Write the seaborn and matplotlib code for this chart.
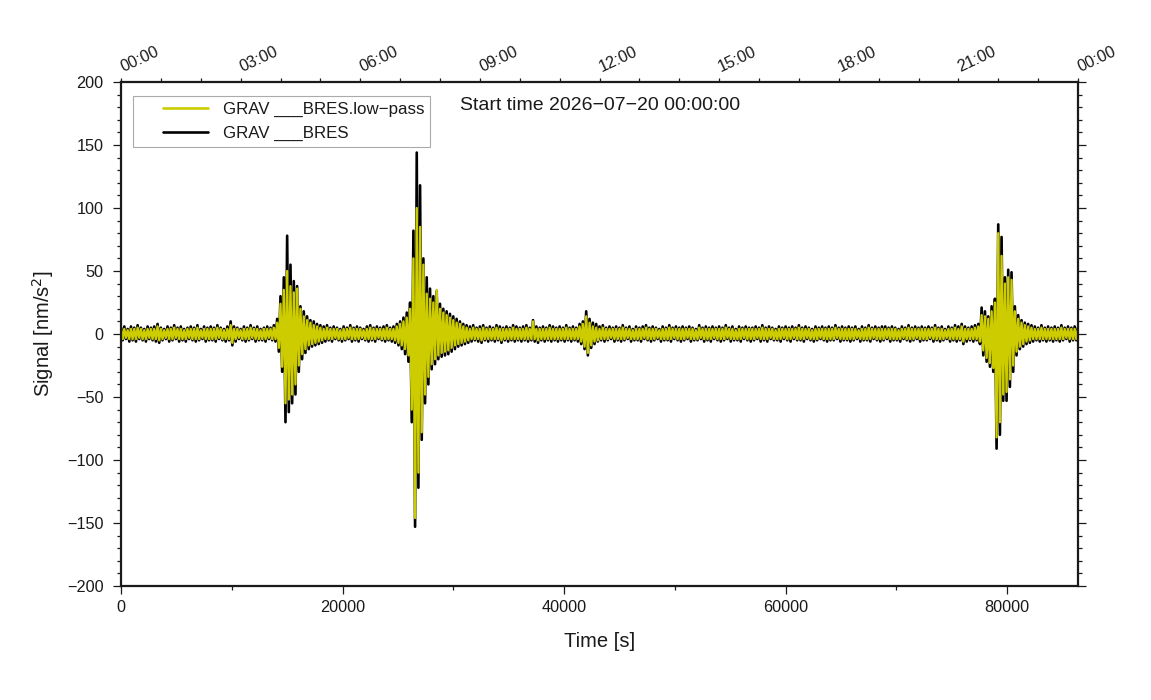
import numpy as np
import pandas as pd
import matplotlib
matplotlib.use("Agg")
import matplotlib.pyplot as plt
import matplotlib.transforms as mtransforms
import seaborn as sns
from matplotlib.ticker import MultipleLocator, FixedLocator, NullFormatter
from matplotlib.lines import Line2D
from matplotlib.legend_handler import HandlerLine2D

# ---------------- data ----------------
# envelope peaks of the raw trace: positive peaks every 300 s (t = 300k),
# negative peaks in between (t = 300k + 150)
raw_hi = [
    5, 6, 4, 6, 5, 7, 5, 4, 6, 5,
    6, 8, 5, 4, 6, 5, 7, 5, 6, 4,
    5, 6, 5, 7, 4, 6, 5, 6, 5, 7,
    5, 4, 6, 10, 6, 5, 4, 6, 5, 7,
    5, 6, 4, 5, 6, 5, 7, 12, 30, 45,
    78, 55, 42, 38, 22, 18, 14, 11, 10, 8,
    7, 6, 7, 5, 6, 5, 4, 6, 5, 7,
    5, 6, 5, 4, 6, 7, 5, 6, 5, 6,
    7, 5, 6, 8, 10, 13, 17, 25, 82, 144,
    118, 60, 45, 36, 30, 34, 24, 20, 18, 16,
    14, 12, 10, 8, 7, 6, 7, 5, 6, 7,
    5, 6, 5, 7, 6, 5, 6, 5, 7, 6,
    5, 6, 7, 5, 11, 6, 5, 6, 5, 7,
    6, 5, 6, 5, 7, 5, 6, 5, 8, 10,
    18, 12, 9, 8, 6, 7, 5, 6, 5, 6,
    5, 7, 5, 6, 4, 6, 5, 6, 7, 5,
    6, 5, 4, 6, 5, 7, 5, 6, 5, 6,
    5, 6, 5, 4, 7, 5, 6, 5, 6, 5,
    6, 5, 7, 5, 6, 4, 6, 5, 6, 5,
    5, 6, 5, 7, 5, 6, 5, 4, 6, 5,
    6, 5, 6, 5, 7, 5, 6, 5, 4, 6,
    5, 6, 5, 6, 5, 7, 5, 6, 5, 6,
    5, 6, 4, 6, 5, 7, 5, 6, 5, 6,
    6, 5, 6, 5, 4, 6, 5, 7, 5, 6,
    5, 6, 5, 6, 5, 7, 5, 6, 4, 6,
    5, 7, 6, 8, 6, 5, 6, 7, 8, 21,
    18, 14, 22, 28, 87, 77, 45, 51, 49, 22,
    15, 11, 9, 8, 7, 6, 5, 7, 5, 6,
    5, 6, 5, 7, 5, 6, 5, 6, 5,
]
raw_lo = [
    -5, -4, -6, -5, -6, -4, -5, -6, -4, -5,
    -6, -7, -5, -4, -6, -5, -4, -6, -5, -6,
    -4, -5, -6, -5, -4, -6, -5, -5, -6, -4,
    -5, -6, -5, -9, -6, -4, -5, -6, -5, -4,
    -6, -5, -5, -6, -4, -5, -6, -14, -30, -70,
    -62, -55, -48, -30, -20, -15, -12, -10, -9, -8,
    -7, -6, -5, -6, -4, -5, -6, -5, -4, -6,
    -5, -6, -4, -5, -6, -5, -6, -4, -5, -6,
    -5, -6, -7, -9, -12, -16, -22, -70, -153, -122,
    -84, -55, -40, -28, -24, -20, -18, -17, -16, -14,
    -12, -10, -9, -8, -7, -6, -5, -6, -7, -5,
    -6, -5, -6, -5, -7, -5, -6, -5, -6, -5,
    -6, -5, -6, -5, -6, -7, -5, -6, -5, -6,
    -5, -6, -5, -6, -5, -6, -5, -6, -8, -12,
    -17, -11, -8, -6, -5, -6, -5, -4, -6, -5,
    -6, -5, -4, -6, -5, -5, -6, -4, -5, -6,
    -5, -4, -6, -5, -5, -6, -4, -5, -6, -5,
    -4, -6, -5, -5, -4, -6, -5, -6, -4, -5,
    -6, -5, -4, -6, -5, -5, -6, -4, -5, -6,
    -5, -4, -6, -5, -6, -4, -5, -5, -6, -4,
    -5, -6, -4, -5, -5, -6, -4, -5, -6, -5,
    -4, -5, -6, -5, -5, -4, -6, -5, -5, -6,
    -5, -4, -6, -5, -5, -6, -4, -5, -6, -5,
    -4, -6, -5, -5, -6, -4, -5, -6, -5, -4,
    -6, -5, -5, -4, -6, -5, -6, -5, -4, -6,
    -5, -6, -5, -8, -6, -5, -6, -5, -8, -17,
    -22, -26, -30, -91, -80, -53, -53, -42, -30, -17,
    -12, -10, -8, -7, -6, -5, -6, -5, -6, -5,
    -6, -5, -6, -5, -4, -6, -5, -5,
]
# same for the low-pass trace
low_hi = [
    4, 4, 3, 4, 4, 5, 4, 3, 4, 4,
    4, 6, 4, 3, 4, 4, 5, 4, 4, 3,
    4, 4, 4, 5, 3, 4, 4, 4, 4, 5,
    4, 3, 4, 7, 4, 4, 3, 4, 4, 5,
    4, 4, 3, 4, 4, 4, 5, 9, 24, 35,
    50, 38, 33, 36, 20, 14, 11, 9, 7, 6,
    5, 4, 5, 4, 4, 4, 3, 4, 4, 5,
    4, 4, 4, 3, 4, 5, 4, 4, 4, 4,
    5, 4, 4, 6, 8, 10, 13, 20, 60, 100,
    85, 55, 32, 28, 25, 35, 20, 17, 15, 13,
    11, 9, 8, 6, 5, 4, 5, 4, 4, 5,
    4, 4, 4, 5, 4, 4, 4, 4, 5, 4,
    4, 4, 5, 4, 10, 4, 4, 4, 4, 5,
    4, 4, 4, 4, 5, 4, 4, 4, 6, 8,
    14, 9, 6, 5, 4, 5, 4, 4, 4, 4,
    4, 5, 4, 4, 3, 4, 4, 4, 5, 4,
    4, 4, 3, 4, 4, 5, 4, 4, 4, 4,
    4, 4, 4, 3, 5, 4, 4, 4, 4, 4,
    4, 4, 5, 4, 4, 3, 4, 4, 4, 4,
    4, 4, 4, 5, 4, 4, 4, 3, 4, 4,
    4, 4, 4, 4, 5, 4, 4, 4, 3, 4,
    4, 4, 4, 4, 4, 5, 4, 4, 4, 4,
    4, 4, 3, 4, 4, 5, 4, 4, 4, 4,
    4, 4, 4, 4, 3, 4, 4, 5, 4, 4,
    4, 4, 4, 4, 4, 5, 4, 4, 3, 4,
    4, 5, 4, 6, 4, 4, 4, 5, 6, 15,
    14, 12, 18, 25, 80, 62, 40, 45, 43, 18,
    12, 9, 7, 6, 5, 4, 4, 5, 4, 4,
    4, 4, 4, 5, 4, 4, 4, 4, 4,
]
low_lo = [
    -4, -3, -4, -4, -4, -3, -4, -4, -3, -4,
    -4, -5, -4, -3, -4, -4, -3, -4, -4, -4,
    -3, -4, -4, -4, -3, -4, -4, -4, -4, -3,
    -4, -4, -4, -7, -4, -3, -4, -4, -4, -3,
    -4, -4, -4, -4, -3, -4, -4, -11, -26, -55,
    -52, -48, -40, -25, -16, -12, -9, -8, -7, -6,
    -5, -4, -4, -4, -3, -4, -4, -4, -3, -4,
    -4, -4, -3, -4, -4, -4, -4, -3, -4, -4,
    -4, -4, -5, -7, -9, -12, -17, -60, -146, -110,
    -78, -48, -34, -24, -20, -17, -15, -14, -13, -11,
    -9, -8, -7, -6, -5, -4, -4, -4, -5, -4,
    -4, -4, -4, -4, -5, -4, -4, -4, -4, -4,
    -4, -4, -4, -4, -4, -5, -4, -4, -4, -4,
    -4, -4, -4, -4, -4, -4, -4, -4, -6, -10,
    -15, -9, -6, -5, -4, -4, -4, -3, -4, -4,
    -4, -4, -3, -4, -4, -4, -4, -3, -4, -4,
    -4, -3, -4, -4, -4, -4, -3, -4, -4, -4,
    -3, -4, -4, -4, -3, -4, -4, -4, -3, -4,
    -4, -4, -3, -4, -4, -4, -4, -3, -4, -4,
    -4, -3, -4, -4, -4, -3, -4, -4, -4, -3,
    -4, -4, -3, -4, -4, -4, -3, -4, -4, -4,
    -3, -4, -4, -4, -4, -3, -4, -4, -4, -4,
    -4, -3, -4, -4, -4, -4, -3, -4, -4, -4,
    -3, -4, -4, -4, -4, -3, -4, -4, -4, -3,
    -4, -4, -4, -3, -4, -4, -4, -4, -3, -4,
    -4, -4, -4, -6, -4, -4, -4, -4, -6, -13,
    -19, -23, -27, -82, -70, -48, -46, -36, -25, -14,
    -10, -8, -6, -5, -4, -4, -4, -4, -4, -4,
    -4, -4, -4, -4, -3, -4, -4, -4,
]
sample_step = 300  # seconds between positive peaks

top_tick_labels = ["00:00", "03:00", "06:00", "09:00", "12:00",
                   "15:00", "18:00", "21:00", "00:00"]
series_names = ["GRAV ___BRES.low\u2212pass", "GRAV ___BRES"]
start_text = "Start time 2026\u221207\u221220 00:00:00"


def interleave(hi, lo, step):
    hi = np.asarray(hi, float)
    lo = np.asarray(lo, float)
    t_hi = np.arange(len(hi)) * step
    t_lo = np.arange(len(lo)) * step + step / 2
    t = np.concatenate([t_hi, t_lo])
    v = np.concatenate([hi, lo])
    order = np.argsort(t, kind="stable")
    return t[order], v[order]


t_raw, v_raw = interleave(raw_hi, raw_lo, sample_step)
t_low, v_low = interleave(low_hi, low_lo, sample_step)
df_raw = pd.DataFrame({"t": t_raw, "v": v_raw})
df_low = pd.DataFrame({"t": t_low, "v": v_low})

# ---------------- style ----------------
sns.set_theme(style="ticks")
plt.rcParams["font.family"] = ["Liberation Sans", "DejaVu Sans"]
plt.rcParams["axes.unicode_minus"] = True

YELLOW = "#cccc00"
INK = "#1a1a1a"

fig = plt.figure(figsize=(11.51, 7.0), dpi=100)
ax = fig.add_axes([121 / 1151, 1 - 586 / 700, (1078 - 121) / 1151, (586 - 82) / 700])

sns.lineplot(data=df_raw, x="t", y="v", ax=ax, color="black", lw=1.9,
             estimator=None, sort=False)
sns.lineplot(data=df_low, x="t", y="v", ax=ax, color=YELLOW, lw=1.7,
             estimator=None, sort=False)

ax.set_xlim(0, 86400)
ax.set_ylim(-200, 200)
ax.xaxis.set_major_locator(MultipleLocator(20000))
ax.xaxis.set_minor_locator(MultipleLocator(10000))
ax.yaxis.set_major_locator(MultipleLocator(50))
ax.yaxis.set_minor_locator(MultipleLocator(10))

for s in ax.spines.values():
    s.set_linewidth(1.6)
    s.set_color(INK)
    s.set_visible(True)
    s.set_zorder(5)

ax.tick_params(axis="both", which="major", direction="out", length=5.5,
               width=0.9, color=INK, labelsize=11.7, labelcolor=INK)
ax.tick_params(axis="both", which="minor", direction="out", length=3,
               width=0.9, color=INK)
ax.tick_params(axis="y", which="both", right=True, labelright=False)
ax.tick_params(axis="y", which="major", pad=7)
ax.tick_params(axis="x", which="major", pad=4.6)

ax.set_xlabel("Time [s]", fontsize=14.5, color=INK, labelpad=12)
ax.set_ylabel("Signal [nm/s$^2$]", fontsize=14.5, color=INK, labelpad=8)

# top time axis (ticks), labels placed with a small offset
ax2 = ax.twiny()
ax2.set_xlim(0, 86400)
top_ticks = np.arange(len(top_tick_labels)) * 10800
ax2.xaxis.set_major_locator(FixedLocator(top_ticks))
ax2.xaxis.set_minor_locator(MultipleLocator(3600))
ax2.xaxis.set_major_formatter(NullFormatter())
ax2.tick_params(axis="x", which="both", direction="out", length=3,
                width=0.9, color=INK)
for s in ax2.spines.values():
    s.set_visible(False)

trans = mtransforms.blended_transform_factory(ax.transData, ax.transAxes)
off = mtransforms.ScaledTranslation(1.5 / 72, 7.5 / 72, fig.dpi_scale_trans)
for xt, lab in zip(top_ticks, top_tick_labels):
    ax.text(xt, 1.0, lab, transform=trans + off, rotation=25,
            rotation_mode="anchor", ha="left", va="baseline",
            fontsize=11.7, color=INK, clip_on=False)

# legend
fs_leg = 12.2
h_low = Line2D([], [], color=YELLOW, lw=1.9)
h_raw = Line2D([], [], color="black", lw=1.9)
leg = ax.legend(handles=[h_low, h_raw], labels=series_names,
                loc="upper left", bbox_to_anchor=(133 / 1151, 1 - 96 / 700),
                bbox_transform=fig.transFigure, borderaxespad=0,
                fontsize=fs_leg, frameon=True, fancybox=False, framealpha=1,
                edgecolor="#aaaaaa", borderpad=0.355, numpoints=2,
                handlelength=5.5, handletextpad=-0.57, labelspacing=0.53,
                handler_map={Line2D: HandlerLine2D(marker_pad=1.42)})
leg.get_frame().set_linewidth(0.8)
leg.set_zorder(6)
for txt in leg.get_texts():
    txt.set_color(INK)

fig.text(460 / 1151, 1 - 105.5 / 700, start_text, ha="left", va="center",
         fontsize=14, color=INK)

fig.savefig("out.png", dpi=100)
